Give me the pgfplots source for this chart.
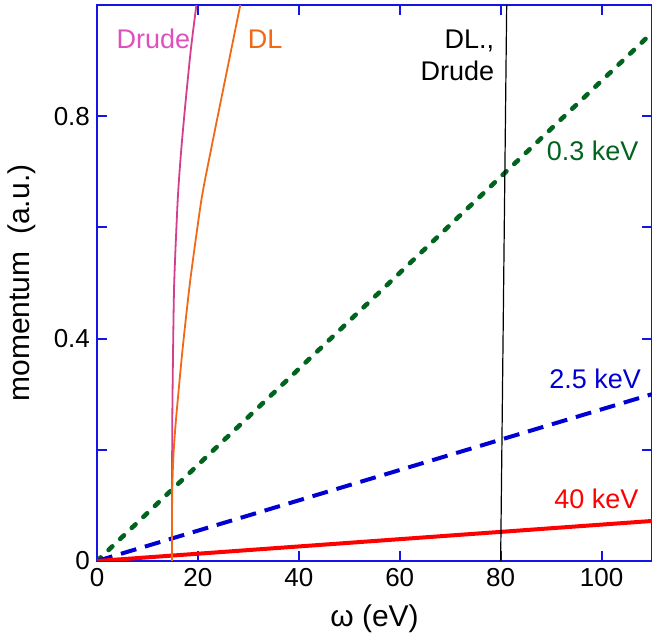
\documentclass[border=0pt]{standalone}
\usepackage{fontspec}
\setmainfont{Liberation Sans}
\usepackage{pgfplots}
\pgfplotsset{compat=1.18}
\definecolor{frameblue}{RGB}{20,20,230}
\definecolor{drudeline}{RGB}{212,62,140}
\definecolor{drudetext}{RGB}{222,80,190}
\definecolor{dlorange}{RGB}{242,104,20}
\definecolor{dgreen}{RGB}{0,100,30}
\definecolor{dblue}{RGB}{0,0,210}
\begin{document}
\begin{tikzpicture}
\path[use as bounding box] (-48.5pt,-37.5pt) rectangle (277.5pt,280.5pt);
\begin{axis}[
  scale only axis, width=277.5pt, height=278pt,
  xmin=0, xmax=110, ymin=0, ymax=1.0,
  axis line style={frameblue, line width=1pt},
  xtick={0,20,40,60,80,100},
  ytick={0,0.2,0.4,0.6,0.8,1.0},
  yticklabels={0,,0.4,,0.8,},
  xtick pos=both, ytick pos=both,
  xticklabel pos=left, yticklabel pos=left,
  tick align=inside, major tick length=5pt,
  every tick/.style={frameblue, line width=1pt},
  /pgf/number format/assume math mode=true,
  tick label style={font=\fontsize{13}{15}\selectfont, black},
  xlabel={ω (eV)}, ylabel={momentum\ \ (a.u.)},
  label style={font=\fontsize{15}{18}\selectfont},
  xlabel style={at={(axis description cs:0.5,-0.104)}, anchor=center},
  ylabel style={at={(axis description cs:-0.135,0.5)}, anchor=center},
  clip=true,
]
% 0.3 keV
\addplot[dgreen, line width=2.3pt, line cap=round, dash pattern=on 2.6pt off 5.4pt] coordinates {(0,0) (110,0.950)};
% 2.5 keV
\addplot[dblue, line width=2pt, dash pattern=on 8pt off 4.5pt] coordinates {(0,0) (110,0.300)};
% 40 keV
\addplot[red, line width=2pt] coordinates {(0,0) (110,0.072)};
% Drude
\addplot[drudeline, line width=0.9pt, smooth, tension=0.4] coordinates {
 (14.85,0) (14.88,0.15) (14.92,0.25) (15.05,0.36) (15.3,0.5) (16.0,0.65) (16.7,0.74) (17.6,0.83) (18.6,0.92) (19.7,1.0)};
% DL
\addplot[dlorange, line width=0.9pt, smooth, tension=0.4] coordinates {
 (14.85,0) (14.9,0.12) (15.15,0.19) (15.65,0.254) (16.95,0.38) (18.5,0.506) (20.7,0.65) (22.6,0.74) (24.6,0.83) (26.5,0.915) (28.4,1.0)};
% DL., Drude (high energy)
\addplot[black, line width=0.6pt] coordinates {(80.0,0) (81.2,1.0)};
\node[drudetext, font=\fontsize{13.5}{16}\selectfont] at (axis cs:11.2,0.939) {Drude};
\node[dlorange, font=\fontsize{13.5}{16}\selectfont] at (axis cs:33.3,0.939) {DL};
\node[black, font=\fontsize{13.5}{16}\selectfont, align=right, anchor=east, inner sep=0pt] at (axis cs:78.8,0.91) {DL.,\\Drude};
\node[dgreen, font=\fontsize{13.5}{16}\selectfont, anchor=east, inner sep=0pt] at (axis cs:107.4,0.737) {0.3 keV};
\node[dblue, font=\fontsize{13.5}{16}\selectfont, anchor=east, inner sep=0pt] at (axis cs:107.9,0.328) {2.5 keV};
\node[red, font=\fontsize{13.5}{16}\selectfont, anchor=east, inner sep=0pt] at (axis cs:107.4,0.112) {40 keV};
\end{axis}
\end{tikzpicture}
\end{document}
